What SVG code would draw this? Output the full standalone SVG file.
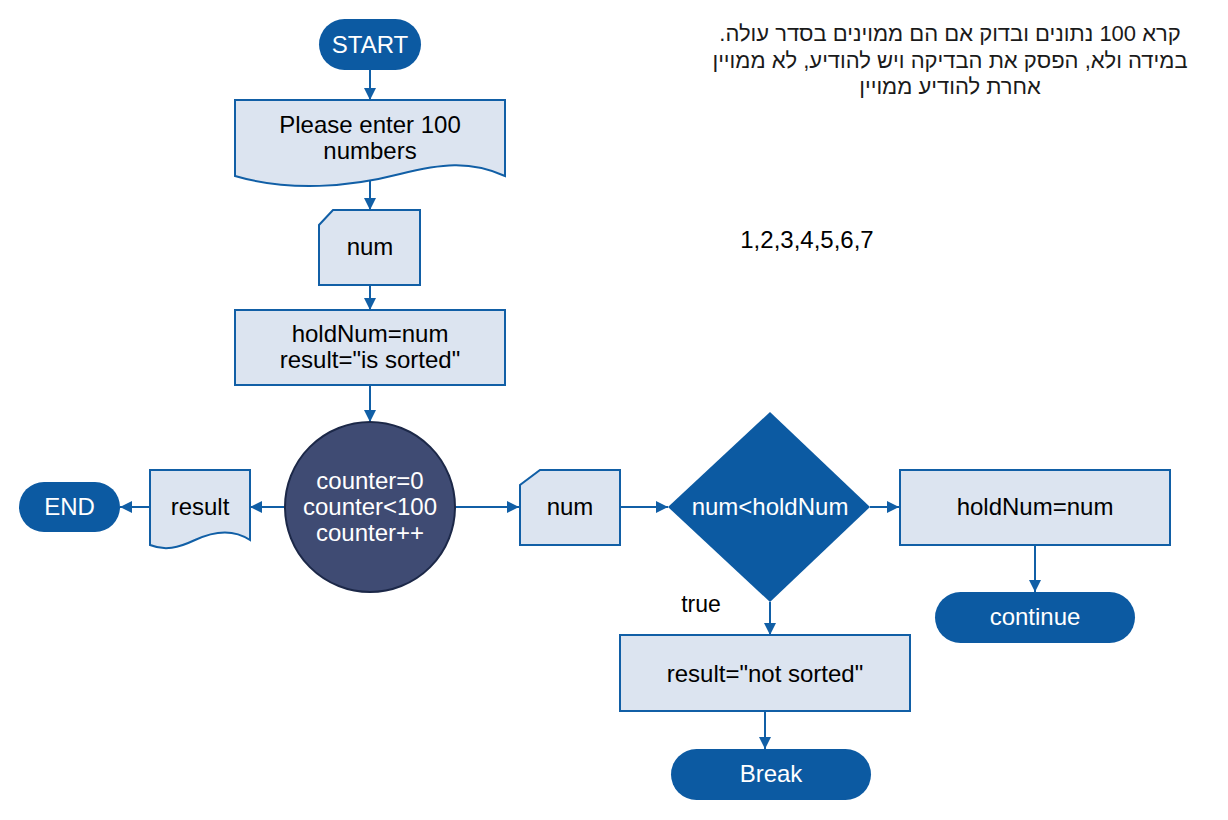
<svg xmlns="http://www.w3.org/2000/svg" width="1228" height="820" viewBox="0 0 1228 820">
<defs>
<marker id="arr" viewBox="0 0 10 10" refX="10" refY="5" markerWidth="12" markerHeight="12" markerUnits="userSpaceOnUse" orient="auto">
<path d="M0,0 L10,5 L0,10 Z" fill="#115fa6"/>
</marker>
<style>
.t{font-family:"Liberation Sans",Arial,sans-serif;font-size:24px;fill:#000;text-anchor:middle}
.w{fill:#fff}
.pill{fill:#0c5aa2}
.box{fill:#dce4f0;stroke:#115fa6;stroke-width:2}
.c{stroke:#115fa6;stroke-width:2;fill:none;marker-end:url(#arr)}
.heb{font-family:"Liberation Sans","DejaVu Sans",sans-serif;font-size:22px;fill:#1a1a1a;text-anchor:middle}
</style>
</defs>
<rect width="1228" height="820" fill="#fff"/>

<g id="connectors">
<line class="c" x1="370" y1="70" x2="370" y2="100"/>
<line class="c" x1="370" y1="180" x2="370" y2="210"/>
<line class="c" x1="370" y1="285" x2="370" y2="310"/>
<line class="c" x1="370" y1="385" x2="370" y2="422"/>
<line class="c" x1="455" y1="507" x2="519" y2="507"/>
<line class="c" x1="285" y1="507" x2="250" y2="507"/>
<line class="c" x1="150" y1="507" x2="120" y2="507"/>
<line class="c" x1="620" y1="507" x2="668" y2="507"/>
<line class="c" x1="870" y1="507" x2="899" y2="507"/>
<line class="c" x1="1035" y1="545" x2="1035" y2="592"/>
<line class="c" x1="770" y1="602" x2="770" y2="635"/>
<line class="c" x1="765" y1="711" x2="765" y2="749"/>
</g>

<g id="start">
<rect class="pill" x="319" y="19" width="102" height="51" rx="25.5"/>
<text class="t w" x="370" y="53">START</text>
</g>

<g id="prompt">
<path class="box" d="M235,100 H505 V176 C470,160 440,164 400,174 C350,187 290,192 235,176 Z"/>
<text class="t" x="370" y="133">Please enter 100</text>
<text class="t" x="370" y="159">numbers</text>
</g>

<g id="input1">
<path class="box" d="M333,210 H420 V285 H319 V225 Z"/>
<text class="t" x="370" y="255">num</text>
</g>

<g id="init">
<rect class="box" x="235" y="310" width="270" height="75"/>
<text class="t" x="370" y="342">holdNum=num</text>
<text class="t" x="370" y="368">result="is sorted"</text>
</g>

<g id="loop">
<circle cx="370" cy="507" r="85" fill="#3f4b73" stroke="#1c2848" stroke-width="2"/>
<text class="t w" x="370" y="489">counter=0</text>
<text class="t w" x="370" y="515">counter&lt;100</text>
<text class="t w" x="370" y="541">counter++</text>
</g>

<g id="output">
<path class="box" d="M150,470 H250 V540 C232,528 212,532 195,540 C178,548 165,551 150,545 Z"/>
<text class="t" x="200" y="515">result</text>
</g>

<g id="end">
<rect class="pill" x="19" y="482" width="101" height="50" rx="25"/>
<text class="t w" x="69.5" y="515">END</text>
</g>

<g id="input2">
<path class="box" d="M540,470 H620 V545 H520 V485 Z"/>
<text class="t" x="570" y="515">num</text>
</g>

<g id="decision">
<polygon points="770,412 870,507 770,602 668,507" fill="#0c5aa2"/>
<text class="t w" x="770" y="515">num&lt;holdNum</text>
</g>

<g id="update">
<rect class="box" x="900" y="470" width="270" height="75"/>
<text class="t" x="1035" y="515">holdNum=num</text>
</g>

<g id="continue">
<rect class="pill" x="935" y="592" width="200" height="51" rx="25.5"/>
<text class="t w" x="1035" y="625">continue</text>
</g>

<g id="notsorted">
<rect class="box" x="620" y="635" width="290" height="76"/>
<text class="t" x="765" y="682">result="not sorted"</text>
</g>

<g id="break">
<rect class="pill" x="671" y="749" width="200" height="51" rx="25.5"/>
<text class="t w" x="771" y="782">Break</text>
</g>

<text class="t" x="701" y="612" style="font-size:23px">true</text>
<text class="t" x="807" y="248">1,2,3,4,5,6,7</text>

<g id="note">
<text class="heb" x="950" y="41">.קרא 100 נתונים ובדוק אם הם ממוינים בסדר עולה</text>
<text class="heb" x="950" y="68">במידה ולא, הפסק את הבדיקה ויש להודיע, לא ממויין</text>
<text class="heb" x="950" y="94">אחרת להודיע ממויין</text>
</g>
</svg>
